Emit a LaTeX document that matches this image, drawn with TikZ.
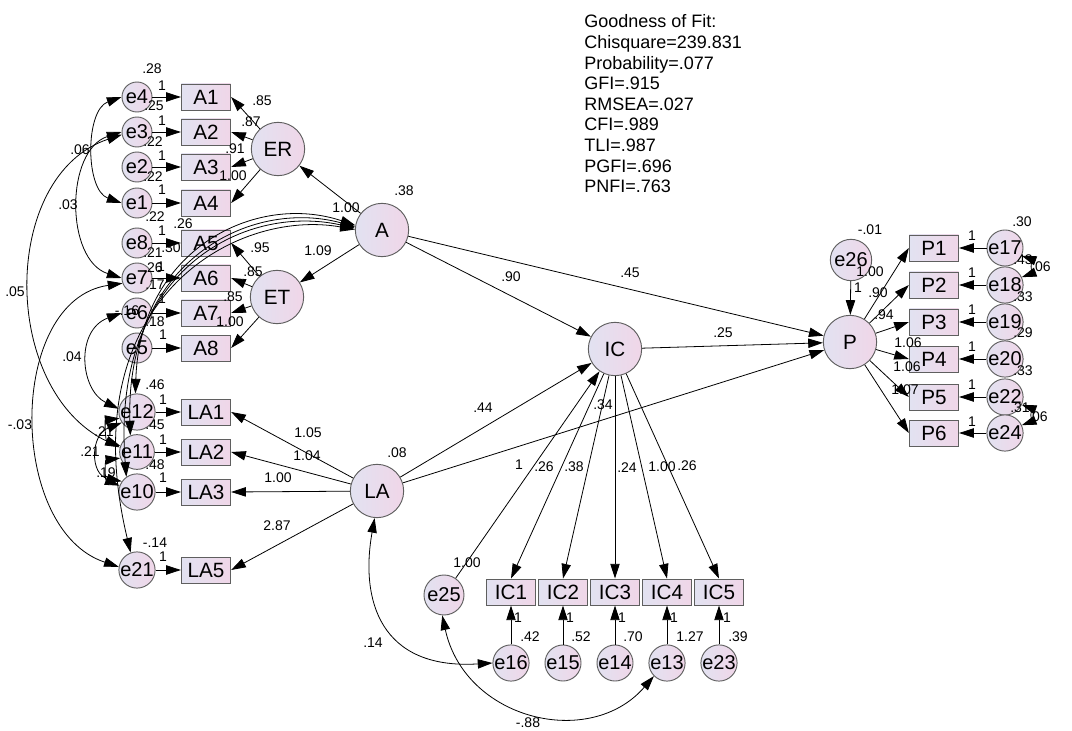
\documentclass[tikz,border=0pt]{standalone}
\usepackage{fontspec}
\setmainfont{Liberation Sans}
\usetikzlibrary{arrows.meta}
\definecolor{cL}{RGB}{226,226,241}
\definecolor{cR}{RGB}{240,214,232}
\definecolor{bd}{RGB}{95,95,95}
\begin{document}
\begin{tikzpicture}[x=0.75pt,y=-0.75pt,
  lat/.style={circle,draw=bd,line width=0.7pt,left color=cL,right color=cR,minimum size=40pt,inner sep=0pt,font=\fontsize{15.5}{17}\selectfont},
  err/.style={circle,draw=bd,line width=0.7pt,left color=cL,right color=cR,minimum size=22.5pt,inner sep=0pt,font=\fontsize{15}{17}\selectfont},
  obs/.style={rectangle,draw=bd,line width=0.7pt,left color=cL,right color=cR,minimum width=37pt,minimum height=19.5pt,inner sep=0pt,font=\fontsize{15.5}{17}\selectfont},
  tip/.tip={Triangle[length=11pt,width=7pt]},
  arr/.style={-tip,line width=0.6pt},
  cov/.style={tip-tip,line width=0.6pt},
  lbl/.style={font=\fontsize{10.5}{12}\selectfont,inner sep=0pt},
  fitline/.style={font=\fontsize{13.5}{15}\selectfont,inner sep=0pt,anchor=base west}]
\useasboundingbox (0,0) rectangle (1072,731);
\fill[white] (0,0) rectangle (1072,731);

% ---------- goodness of fit ----------
\node[fitline] (g1) at (584,28) {Goodness of Fit:};
\node[fitline] (g2) at (584,48.6) {Chisquare=239.831};
\node[fitline] (g3) at (584,69.2) {Probability=.077};
\node[fitline] (g4) at (584,89.8) {GFI=.915};
\node[fitline] (g5) at (584,110.4) {RMSEA=.027};
\node[fitline] (g6) at (584,131) {CFI=.989};
\node[fitline] (g7) at (584,151.6) {TLI=.987};
\node[fitline] (g8) at (584,172.2) {PGFI=.696};
\node[fitline] (g9) at (584,192.8) {PNFI=.763};

% ---------- latent ----------
\node[lat] (ER) at (278,149) {ER};
\node[lat] (ET) at (277,297) {ET};
\node[lat] (A) at (382,230) {A};
\node[lat] (LA) at (377,491) {LA};
\node[lat] (IC) at (615,349) {IC};
\node[lat] (P) at (850,342) {P};
\node[err,minimum size=31pt] (e26) at (851,260) {e26};
\node[err,minimum size=30pt] (e25) at (444,595) {e25};

% ---------- left observed ----------
\foreach \n/\e/\y in {A1/e4/97,A2/e3/132,A3/e2/167,A4/e1/203,A5/e8/243,A6/e7/278,A7/e6/313,A8/e5/348,LA1/e12/412,LA2/e11/452,LA3/e10/492,LA5/e21/570}{
  \node[obs] (\n) at (206,\y) {\n};
  \node[err] (\e) at (137,\y) {\e};
  \draw[arr] (\e) -- (\n);
}
% ---------- right observed ----------
\foreach \n/\e/\y in {P1/e17/248,P2/e18/285,P3/e19/322,P4/e20/359,P5/e22/397,P6/e24/433}{
  \node[obs] (\n) at (934,\y) {\n};
  \node[err] (\e) at (1005,\y) {\e};
  \draw[arr] (\e) -- (\n);
  \draw[arr] (P) -- (\n.west);
}
% ---------- bottom observed ----------
\foreach \n/\e/\x in {IC1/e16/511,IC2/e15/563,IC3/e14/615,IC4/e13/667,IC5/e23/719}{
  \node[obs] (\n) at (\x,592) {\n};
  \node[err] (\e) at (\x,663) {\e};
  \draw[arr] (\e) -- (\n);
  \draw[arr] (IC) -- (\n.north);
}

% ---------- loadings ----------
\foreach \n in {A1,A2,A3,A4}{\draw[arr] (ER) -- (\n.east);}
\foreach \n in {A5,A6,A7,A8}{\draw[arr] (ET) -- (\n.east);}
\foreach \n in {LA1,LA2,LA3,LA5}{\draw[arr] (LA) -- (\n.east);}
\draw[arr] (A) -- (ER);
\draw[arr] (A) -- (ET);
\draw[arr] (A) -- (IC);
\draw[arr] (A) -- (P);
\draw[arr] (IC) -- (P);
\draw[arr] (LA) -- (IC);
\draw[arr] (LA) -- (P);
\draw[arr] (e25) -- (IC);
\draw[arr] (e26) -- (P);

% ---------- covariances ----------
\draw[cov] (e4.west) .. controls (85,110) and (85,190) .. (e1.west);
\draw[cov] (e3.west) .. controls (65,150) and (65,260) .. (e7.west);
\draw[cov] (e3.190) .. controls (0,175) and (0,390) .. (e11.165);
\draw[cov] (e6.west) .. controls (75,330) and (80,390) .. (e12.170);
\draw[cov] (e7.200) .. controls (7,300) and (7,530) .. (e21.170);
\draw[cov] (A.170) .. controls (255,192) and (140,250) .. (e12.95);
\draw[cov] (A.173) .. controls (250,198) and (125,262) .. (e11.112);
\draw[cov] (A.176) .. controls (243,203) and (110,272) .. (e10.125);
\draw[cov] (A.179) .. controls (235,208) and (70,300) .. (e21.110);
\draw[cov] (e12.200) .. controls (105,420) and (105,440) .. (e11.160);
\draw[cov] (e11.200) .. controls (105,460) and (105,480) .. (e10.160);
\draw[cov] (e12.215) .. controls (90,435) and (90,475) .. (e10.145);
\draw[cov] (e17.-25) to[bend left=70] (e18.25);
\draw[cov] (e22.-25) to[bend left=70] (e24.25);
\draw[cov] (LA.265) .. controls (360,600) and (380,670) .. (e16.west);
\draw[cov] (e25.265) .. controls (465,720) and (590,750) .. (e13.225);

% ---------- labels: left ----------
\foreach \t/\x/\y in {.28/152/69, 1/162/86, .25/154/106, 1/162/121, .22/153/142, 1/162/156, .22/153/177, 1/162/190,
  .22/155/217, .26/183/224, 1/162/231, .21/153/253, .30/171/248, .26/153/268, 1/161/267, .17/155/285, 1/162/299,
  -.16/127/311, .18/155/322, 1/163/335,
  .46/155/385, 1/163/400, .45/155/425, 1/163/440, .48/155/465, 1/163/478, -.14/155/543, 1/163/557,
  .21/104/432, .21/90/452, .19/106/473,
  .06/80/150, .03/68/205, .05/15/292, .04/72/357, -.03/20/425}{
  \node[lbl] at (\x,\y) {\t};
}
\node[lbl] (lER1) at (262,101) {.85};
\node[lbl] (lER2) at (251,122) {.87};
\node[lbl] (lER3) at (235,149) {.91};
\node[lbl] (lER4) at (233,176) {1.00};
\node[lbl] (lET1) at (260,248) {.95};
\node[lbl] (lET2) at (253,272) {.85};
\node[lbl] (lET3) at (233,297) {.85};
\node[lbl] (lET4) at (230,322) {1.00};
\node[lbl] (lAER) at (346,208) {1.00};
\node[lbl] (lAET) at (318,251) {1.09};
\node[lbl] (vA) at (404,191) {.38};
\node[lbl] (lLA1) at (308,433) {1.05};
\node[lbl] (lLA2) at (307,456) {1.04};
\node[lbl] (lLA3) at (278,478) {1.00};
\node[lbl] (lLA5) at (277,526) {2.87};
\node[lbl] (vLA) at (397,453) {.08};
% ---------- labels: middle ----------
\node[lbl] (lAIC) at (511,277) {.90};
\node[lbl] (lAP) at (630,273) {.45};
\node[lbl] (lICP) at (723,333) {.25};
\node[lbl] (lLAIC) at (483,408) {.44};
\node[lbl] (lLAP) at (603,405) {.34};
\node[lbl] (le25) at (519,465) {1};
\node[lbl] (lIC1) at (544,467) {.26};
\node[lbl] (lIC2) at (574,467) {.38};
\node[lbl] (lIC3) at (627,468) {.24};
\node[lbl] (lIC4) at (662,467) {1.00};
\node[lbl] (lIC5) at (687,466) {.26};
\node[lbl] (ve25) at (467,563) {1.00};
\foreach \t/\x/\y in {1/518/618, .42/530/637, 1/570/618, .52/581/637, 1/622/618, .70/633/637, 1/674/618, 1.27/690/637, 1/727/618, .39/738/637}{
  \node[lbl] at (\x,\y) {\t};
}
\node[lbl] (lcov1) at (373,643) {.14};
\node[lbl] (lcov2) at (528,723) {-.88};
% ---------- labels: right ----------
\foreach \t/\x/\y in {-.01/870/230, 1.00/870/272, 1/858/288, .90/878/293, .94/884/315, 1.06/908/343, 1.06/907/367, 1.07/905/390,
  1/972/236, 1/972/273, 1/972/310, 1/972/347, 1/972/385, 1/972/422,
  .30/1022/222, .43/1023/260, .33/1023/297, .29/1023/333, .33/1023/371, .31/1020/408, .06/1041/267, .06/1038/417}{
  \node[lbl] at (\x,\y) {\t};
}
\end{tikzpicture}
\end{document}
